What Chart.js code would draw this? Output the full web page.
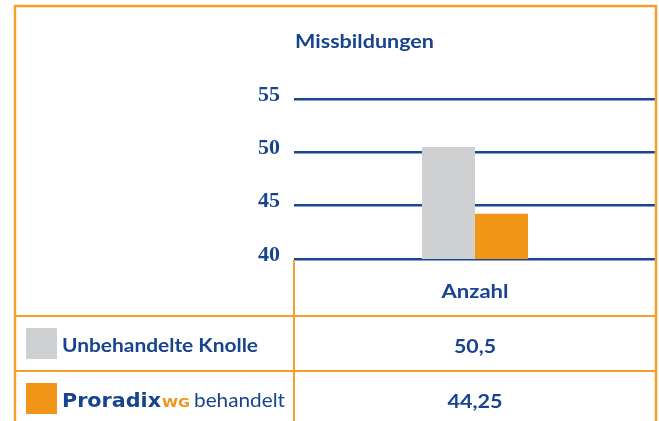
<!DOCTYPE html>
<html>
<head>
<meta charset="utf-8">
<script src="https://cdn.jsdelivr.net/npm/chart.js@4.4.0/dist/chart.umd.min.js"></script>
<style>
  html, body { margin: 0; padding: 0; background: #ffffff; }
  #wrap { width: 659px; height: 421px; position: relative; }
</style>
</head>
<body>
<div id="wrap"><canvas id="c" width="659" height="421"></canvas></div>
<script>
// ---- data ----
const chartTitle = "Missbildungen";
const categories = ["Anzahl"];
const seriesNames = ["Unbehandelte Knolle", "Proradix WG behandelt"];
const untreatedValues = [50.5];
const treatedValues = [44.25];
const yTicks = [40, 45, 50, 55];

// ---- styles ----
const BLUE = "#18438f";
const GRID = "#1a4592";
const ORANGE_LINE = "#f4a12c";
const GREY_BAR = "#cfd0d2";
const ORANGE_BAR = "#f19518";

function fmtDe(v) { return String(v).replace(".", ","); }

function fitText(ctx, text, x, y, font, color, align, targetW) {
  ctx.save();
  ctx.font = font;
  ctx.fillStyle = color;
  ctx.textBaseline = "alphabetic";
  const w = ctx.measureText(text).width;
  let sx = 1;
  if (targetW) sx = targetW / w;
  let left = x;
  if (align === "center") left = x - (w * sx) / 2;
  else if (align === "right") left = x - w * sx;
  ctx.translate(left, y);
  ctx.scale(sx, 1);
  ctx.textAlign = "left";
  ctx.fillText(text, 0, 0);
  ctx.restore();
  return w * sx;
}

const tablePlugin = {
  id: "tablePlugin",
  afterDraw(chart) {
    const ctx = chart.ctx;
    const ca = chart.chartArea;
    const H = chart.height;
    const outerL = 15, outerT = 6, outerR = ca.right;
    const row1 = ca.bottom + 57, row2 = row1 + 55;

    ctx.save();
    ctx.strokeStyle = ORANGE_LINE;
    ctx.lineWidth = 2.5;
    ctx.beginPath();
    ctx.moveTo(outerL, H + 2);
    ctx.lineTo(outerL, outerT);
    ctx.lineTo(outerR, outerT);
    ctx.lineTo(outerR, H + 2);
    ctx.stroke();
    ctx.lineWidth = 2;
    ctx.beginPath();
    ctx.moveTo(ca.left, ca.bottom + 1);
    ctx.lineTo(ca.left, H + 2);
    ctx.moveTo(outerL, row1);
    ctx.lineTo(outerR, row1);
    ctx.moveTo(outerL, row2);
    ctx.lineTo(outerR, row2);
    ctx.stroke();
    ctx.restore();

    // title
    fitText(ctx, chartTitle, ca.left + 1, 48, "bold 18px Lato", BLUE, "left", 139);

    const xs = chart.scales.x;
    const cx = xs.getPixelForValue(0);
    fitText(ctx, categories[0], cx, 298, "bold 19px Lato", BLUE, "center", 67);

    const ds = chart.data.datasets;
    ctx.fillStyle = ds[0].backgroundColor;
    ctx.fillRect(26, 328, 31, 31);
    ctx.fillStyle = ds[1].backgroundColor;
    ctx.fillRect(26, 383, 31, 31);

    fitText(ctx, ds[0].label, 62, 352, "bold 19px Lato", BLUE, "left", 196);
    const parts = ds[1].label.split(" ");
    fitText(ctx, parts[0], 62, 407, "bold 20px 'DejaVu Sans'", BLUE, "left", 99);
    fitText(ctx, parts[1], 162, 407, "bold 12px 'DejaVu Sans'", ORANGE_BAR, "left", 28);
    fitText(ctx, parts.slice(2).join(" "), 194, 407, "19px Lato", BLUE, "left", 91);

    fitText(ctx, fmtDe(ds[0].data[0]), cx, 353, "bold 19px Lato", BLUE, "center", 42);
    fitText(ctx, fmtDe(ds[1].data[0]), cx, 408, "bold 19px Lato", BLUE, "center", 55);
  }
};

new Chart(document.getElementById("c"), {
  type: "bar",
  data: {
    labels: categories,
    datasets: [
      { label: seriesNames[0], data: untreatedValues, backgroundColor: GREY_BAR },
      { label: seriesNames[1], data: treatedValues, backgroundColor: ORANGE_BAR }
    ]
  },
  options: {
    responsive: false,
    animation: false,
    devicePixelRatio: 1,
    layout: { padding: { top: 99, right: 3, bottom: 162, left: 0 } },
    datasets: { bar: { categoryPercentage: 0.293, barPercentage: 1 } },
    plugins: { legend: { display: false }, tooltip: { enabled: false }, title: { display: false } },
    scales: {
      x: { display: false },
      y: {
        min: yTicks[0],
        max: yTicks[yTicks.length - 1],
        afterBuildTicks(scale) { scale.ticks = yTicks.map(v => ({ value: v })); },
        afterFit(scale) { scale.width = 294; },
        border: { display: false },
        grid: { color: GRID, lineWidth: 2.5, drawTicks: false },
        ticks: {
          color: BLUE,
          padding: 14,
          labelOffset: -4,
          font: { family: "'Liberation Serif'", weight: "bold", size: 22 }
        }
      }
    }
  },
  plugins: [tablePlugin]
});
</script>
</body>
</html>
